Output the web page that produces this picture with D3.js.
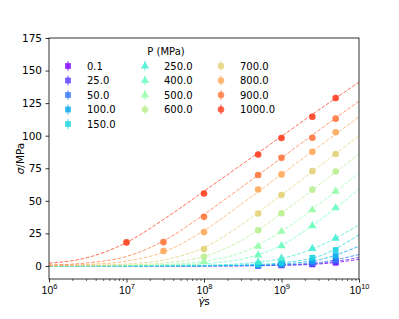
<!DOCTYPE html>
<html>
<head>
<meta charset="utf-8">
<script src="https://cdn.jsdelivr.net/npm/d3@7"></script>
<style>
  html, body { margin: 0; padding: 0; background: #fff; }
  svg { display: block; font-family: "DejaVu Sans", sans-serif; }
</style>
</head>
<body>
<svg id="chart" width="399" height="319"></svg>
<script>
// ---- data ----
const pressures = ["0.1", "25.0", "50.0", "100.0", "150.0", "250.0", "400.0", "500.0", "600.0", "700.0", "800.0", "900.0", "1000.0"];
const markerKinds = ["square", "square", "square", "square", "square", "triangle", "triangle", "triangle", "circle", "circle", "circle", "circle", "circle"];

const pointRates = [
  [5e8, 1e9, 2.5e9, 5e9],
  [5e8, 1e9, 2.5e9, 5e9],
  [5e8, 1e9, 2.5e9, 5e9],
  [5e8, 1e9, 2.5e9, 5e9],
  [5e8, 1e9, 2.5e9, 5e9],
  [5e8, 1e9, 2.5e9, 5e9],
  [5e8, 1e9, 2.5e9, 5e9],
  [1e8, 5e8, 1e9, 2.5e9, 5e9],
  [1e8, 5e8, 1e9, 2.5e9, 5e9],
  [1e8, 5e8, 1e9, 2.5e9, 5e9],
  [3e7, 1e8, 5e8, 1e9, 2.5e9, 5e9],
  [3e7, 1e8, 5e8, 1e9, 2.5e9, 5e9],
  [1e7, 1e8, 5e8, 1e9, 2.5e9, 5e9]
];
const pointStress = [
  [0.25, 0.5, 1.25, 2.5],
  [0.33, 0.65, 1.6, 3.2],
  [0.45, 0.9, 2.25, 4.5],
  [0.78, 1.55, 3.9, 7.6],
  [1.25, 2.5, 6.3, 12.2],
  [2.9, 5.8, 13.3, 21.3],
  [8.4, 15.5, 30.8, 44.7],
  [3.3, 15.0, 26.5, 43.0, 57.3],
  [7.1, 27.4, 40.5, 58.6, 72.5],
  [13.0, 40.3, 54.5, 72.8, 86.0],
  [11.5, 26.0, 58.7, 70.3, 87.6, 102.7],
  [18.3, 37.7, 69.8, 83.0, 98.4, 113.1],
  [18.1, 55.6, 85.6, 98.3, 114.5, 129.0]
];

// fitted curves, read at half-decade steps
const fitRates = [1e6, 3.16e6, 1e7, 3.16e7, 1e8, 3.16e8, 1e9, 3.16e9, 1e10];
const fitStress = [
  [0.0005, 0.0016, 0.005, 0.016, 0.05, 0.16, 0.5, 1.58, 5.0],
  [0.0007, 0.002, 0.0065, 0.02, 0.065, 0.2, 0.65, 2.05, 6.5],
  [0.0009, 0.0028, 0.009, 0.028, 0.09, 0.28, 0.9, 2.8, 8.8],
  [0.0016, 0.005, 0.016, 0.05, 0.155, 0.49, 1.55, 4.9, 15.2],
  [0.0025, 0.008, 0.025, 0.08, 0.25, 0.79, 2.5, 7.8, 24.0],
  [0.006, 0.019, 0.059, 0.185, 0.59, 1.85, 5.7, 15.6, 31.5],
  [0.017, 0.055, 0.17, 0.55, 1.74, 5.4, 15.9, 35.5, 59.0],
  [0.035, 0.11, 0.35, 1.1, 3.5, 10.6, 26.5, 48.2, 71.1],
  [0.075, 0.24, 0.75, 2.37, 7.3, 20.1, 40.5, 63.0, 85.9],
  [0.15, 0.49, 1.54, 4.8, 14.2, 32.3, 54.5, 77.1, 99.9],
  [0.37, 1.18, 3.7, 11.2, 27.2, 48.3, 70.3, 92.4, 114.5],
  [0.75, 2.37, 7.3, 19.9, 39.6, 61.1, 83.0, 104.9, 126.5],
  [2.1, 6.5, 18.0, 36.6, 57.4, 78.4, 99.5, 120.6, 141.0]
];

const xMajorTicks = [1e6, 1e7, 1e8, 1e9, 1e10];
const yTicks = [0, 25, 50, 75, 100, 125, 150, 175];

// ---- drawing ----
const svg = d3.select("#chart");
const L = 49, R = 359, T = 38, B = 279;

const x = d3.scaleLog().domain([1e6, 1e10]).range([L, R]);
const y = d3.scaleLinear().domain([-10, 175]).range([B, T]);

// matplotlib "rainbow" colormap sampled at i/13
function rainbow(t) {
  const r = Math.min(1, Math.abs(2 * t - 0.5));
  const g = Math.sin(Math.PI * t);
  const b = Math.cos(Math.PI * t / 2);
  return d3.rgb(r * 255, g * 255, b * 255).toString();
}
const colors = pressures.map((p, i) => rainbow(i / 13));

const symbolOf = {
  square: d3.symbol().type(d3.symbolSquare).size(34),
  triangle: d3.symbol().type(d3.symbolTriangle).size(30),
  circle: d3.symbol().type(d3.symbolCircle).size(34)
};

const plot = svg.append("g");
svg.append("defs").append("clipPath").attr("id", "clip")
  .append("rect").attr("x", L).attr("y", T).attr("width", R - L).attr("height", B - T);

// fit lines
const line = d3.line()
  .x(d => x(d[0]))
  .y(d => y(d[1]))
  .curve(d3.curveMonotoneX);

const linesG = plot.append("g").attr("clip-path", "url(#clip)");
fitStress.forEach((vals, i) => {
  linesG.append("path")
    .attr("d", line(fitRates.map((r, j) => [r, vals[j]])))
    .attr("fill", "none")
    .attr("stroke", colors[i])
    .attr("stroke-width", 1)
    .attr("stroke-opacity", 0.75)
    .attr("stroke-dasharray", "3.7,1.6");
});

// data points
const ptsG = plot.append("g").attr("clip-path", "url(#clip)");
pointStress.forEach((vals, i) => {
  vals.forEach((v, j) => {
    ptsG.append("path")
      .attr("d", symbolOf[markerKinds[i]]())
      .attr("transform", `translate(${x(pointRates[i][j])},${y(v)})`)
      .attr("fill", colors[i])
      .attr("fill-opacity", 0.9);
  });
});

// axes
const fmtSup = d => Math.round(Math.log10(d));
const xAxis = d3.axisBottom(x).tickValues(xMajorTicks).tickSize(3.5).tickPadding(3).tickFormat(() => "");
const gx = svg.append("g").attr("transform", `translate(0,${B})`).call(xAxis);
gx.select(".domain").remove();
gx.selectAll(".tick line").attr("stroke", "#000").attr("stroke-width", 0.8);
gx.selectAll(".tick").each(function (d) {
  const t = d3.select(this).append("text")
    .attr("y", 15)
    .attr("fill", "#000")
    .attr("font-size", 10.5)
    .attr("text-anchor", "middle");
  t.append("tspan").text("10");
  t.append("tspan").attr("font-size", 7.5).attr("dy", -5).text(fmtSup(d));
});

const minorTicks = [];
for (let e = 6; e < 10; e++) for (let k = 2; k <= 9; k++) minorTicks.push(k * Math.pow(10, e));
const gxm = svg.append("g").attr("transform", `translate(0,${B})`)
  .call(d3.axisBottom(x).tickValues(minorTicks).tickSize(2).tickFormat(() => ""));
gxm.select(".domain").remove();
gxm.selectAll(".tick line").attr("stroke", "#000").attr("stroke-width", 0.6);

const gy = svg.append("g").attr("transform", `translate(${L},0)`)
  .call(d3.axisLeft(y).tickValues(yTicks).tickSize(3.5).tickPadding(3.5));
gy.select(".domain").remove();
gy.selectAll(".tick line").attr("stroke", "#000").attr("stroke-width", 0.8);
gy.selectAll(".tick text").attr("fill", "#000").attr("font-size", 10.5)
  .attr("font-family", "DejaVu Sans, sans-serif");

// frame
svg.append("rect").attr("x", L).attr("y", T).attr("width", R - L).attr("height", B - T)
  .attr("fill", "none").attr("stroke", "#000").attr("stroke-width", 0.8);

// axis labels
const xl = svg.append("text").attr("x", (L + R) / 2).attr("y", 305)
  .attr("text-anchor", "middle").attr("font-size", 10.5).attr("fill", "#000");
xl.append("tspan").attr("font-style", "italic").text("γ̇");
xl.append("tspan").text("s");

const yl = svg.append("text")
  .attr("transform", `translate(24,${(T + B) / 2}) rotate(-90)`)
  .attr("text-anchor", "middle").attr("font-size", 10.5).attr("fill", "#000");
yl.append("tspan").attr("font-style", "italic").text("σ");
yl.append("tspan").text("/MPa");

// legend
const leg = svg.append("g");
leg.append("text").attr("x", 166).attr("y", 55).attr("text-anchor", "middle")
  .attr("font-size", 10).attr("fill", "#000").text("P (MPa)");
const colX = [68, 145, 221];
const rowY = [66, 80.5, 95, 109.5, 124];
const perCol = [5, 4, 4];
let idx = 0;
perCol.forEach((n, c) => {
  for (let r = 0; r < n; r++, idx++) {
    const i = idx;
    const g = leg.append("g").attr("transform", `translate(${colX[c]},${rowY[r]})`);
    g.append("line").attr("x1", 0).attr("x2", 0).attr("y1", -5).attr("y2", 5)
      .attr("stroke", colors[i]).attr("stroke-width", 1).attr("stroke-opacity", 0.8);
    g.append("path").attr("d", symbolOf[markerKinds[i]]()).attr("fill", colors[i]).attr("fill-opacity", 0.8);
    g.append("text").attr("x", 19).attr("y", 3.6).attr("font-size", 10).attr("fill", "#000").text(pressures[i]);
  }
});
</script>
</body>
</html>
